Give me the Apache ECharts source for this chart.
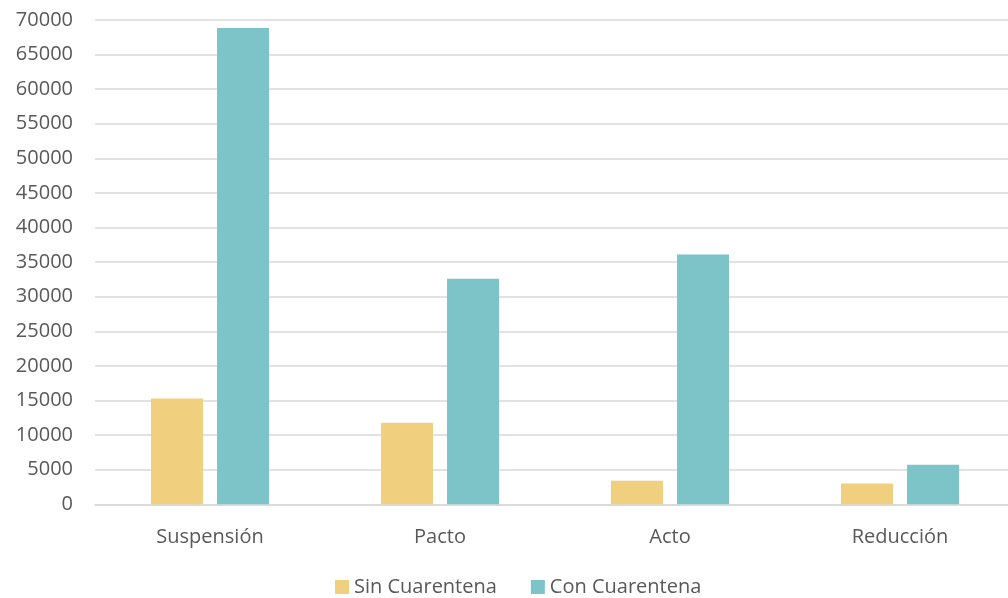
<!DOCTYPE html>
<html><head><meta charset="utf-8">
<script src="https://cdn.jsdelivr.net/npm/echarts@6/dist/echarts.min.js"></script>
<style>html,body{margin:0;padding:0;background:#fff}#c{width:1008px;height:598px}</style>
</head><body><div id="c"></div>
<script>
const categories = ['Suspensión', 'Pacto', 'Acto', 'Reducción'];
const sinCuarentena = [15300, 11800, 3400, 3000];
const conCuarentena = [68850, 32600, 36100, 5700];
const seriesNames = ['Sin Cuarentena', 'Con Cuarentena'];

const chart = echarts.init(document.getElementById('c'));
const font = '"Open Sans", Lato, sans-serif';
chart.setOption({
  animation: false,
  textStyle: {fontFamily: font},
  grid: {left: 95, width: 920, top: 20, height: 484.3, containLabel: false, outerBoundsMode: 'none'},
  legend: {
    data: seriesNames, top: 577, padding: 0, left: 335, itemWidth: 14, itemHeight: 14, itemGap: 34,
    icon: 'rect', textStyle: {fontFamily: font, fontSize: 20, color: '#595959'}
  },
  xAxis: {
    type: 'category', data: categories,
    axisLine: {lineStyle: {color: '#d9d9d9', width: 1.5}},
    axisTick: {show: false},
    axisLabel: {fontFamily: font, fontSize: 20, color: '#595959', margin: 23}
  },
  yAxis: {
    type: 'value', min: 0, max: 70000, interval: 5000,
    axisLine: {show: false}, axisTick: {show: false},
    splitLine: {lineStyle: {color: '#d9d9d9', width: 1.5}},
    axisLabel: {fontFamily: font, fontSize: 20, color: '#595959', margin: 22,
      formatter: v => String(v)}
  },
  series: [
    {name: seriesNames[0], type: 'bar', data: sinCuarentena, barWidth: 52, barGap: '27%',
     itemStyle: {color: '#F0CF7E'}},
    {name: seriesNames[1], type: 'bar', data: conCuarentena, barWidth: 52,
     itemStyle: {color: '#7DC4C9'}}
  ]
});
</script></body></html>
